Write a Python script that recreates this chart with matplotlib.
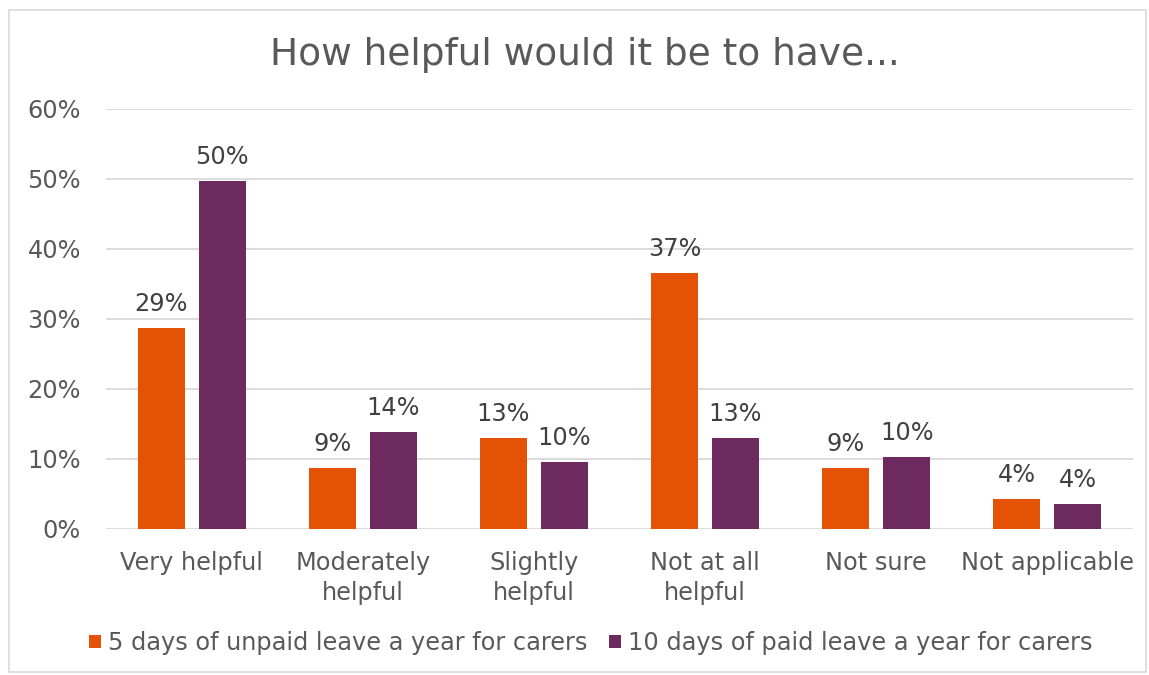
"""Grouped bar chart: helpfulness of carers' leave options."""

import matplotlib
matplotlib.use("agg")
import matplotlib.pyplot as plt
import numpy as np
from matplotlib.patches import Rectangle
from matplotlib.ticker import PercentFormatter

categories = ["Very helpful", "Moderately\nhelpful", "Slightly\nhelpful",
              "Not at all\nhelpful", "Not sure", "Not applicable"]
series_names = ["5 days of unpaid leave a year for carers",
                "10 days of paid leave a year for carers"]
unpaid_5 = [0.287, 0.087, 0.130, 0.366, 0.087, 0.043]
paid_10 = [0.497, 0.139, 0.096, 0.130, 0.103, 0.036]
yticks = [0, 0.1, 0.2, 0.3, 0.4, 0.5, 0.6]

ORANGE = "#E35205"
PURPLE = "#6C2A5F"
TEXT = "#595959"
LABEL = "#404040"
GRID = "#D9D9D9"
FS = 17.3

plt.rcParams["font.family"] = ["DejaVu Sans"]

W, H = 1149, 675
fig = plt.figure(figsize=(W / 100, H / 100), dpi=100)

# outer chart frame
fig.patches.append(Rectangle((9 / W, 1 - 672 / H), 1137 / W, 662 / H,
                             transform=fig.transFigure, fill=False,
                             edgecolor=GRID, linewidth=1.2))

ax = fig.add_axes([106 / W, 1 - 529 / H, 1027 / W, 420 / H])

x = np.arange(len(categories))
width = 0.275
offset = 0.178
bars_a = ax.bar(x - offset, unpaid_5, width, color=ORANGE, label=series_names[0], zorder=3)
bars_b = ax.bar(x + offset, paid_10, width, color=PURPLE, label=series_names[1], zorder=3)

for bars, vals in ((bars_a, unpaid_5), (bars_b, paid_10)):
    for bar, v in zip(bars, vals):
        ax.annotate(f"{v:.0%}", (bar.get_x() + bar.get_width() / 2, v),
                    xytext=(0, 8.5), textcoords="offset points",
                    ha="center", va="bottom", fontsize=FS, color=LABEL)

ax.set_xlim(-0.5, len(categories) - 0.5)
ax.set_ylim(0, 0.6)
ax.set_yticks(yticks)
ax.yaxis.set_major_formatter(PercentFormatter(1.0, decimals=0))
ax.set_xticks(x)
ax.set_xticklabels(categories, linespacing=1.3)
ax.tick_params(axis="y", length=0, pad=18, labelsize=FS, labelcolor=TEXT)
ax.tick_params(axis="x", length=0, pad=16, labelsize=FS, labelcolor=TEXT)
ax.grid(axis="y", color=GRID, linewidth=1.3, zorder=0)
for s in ax.spines.values():
    s.set_visible(False)

fig.text(585 / W, 1 - 55 / H, "How helpful would it be to have...",
         ha="center", va="center", fontsize=27, color=TEXT)

fig.legend(handles=[bars_a, bars_b], loc="center",
           bbox_to_anchor=(591 / W, 1 - 643 / H), ncol=2, frameon=False,
           fontsize=FS, labelcolor=TEXT, handlelength=0.5, handleheight=0.5,
           handletextpad=0.3, columnspacing=0.9)

fig.savefig("out.png", dpi=100)
